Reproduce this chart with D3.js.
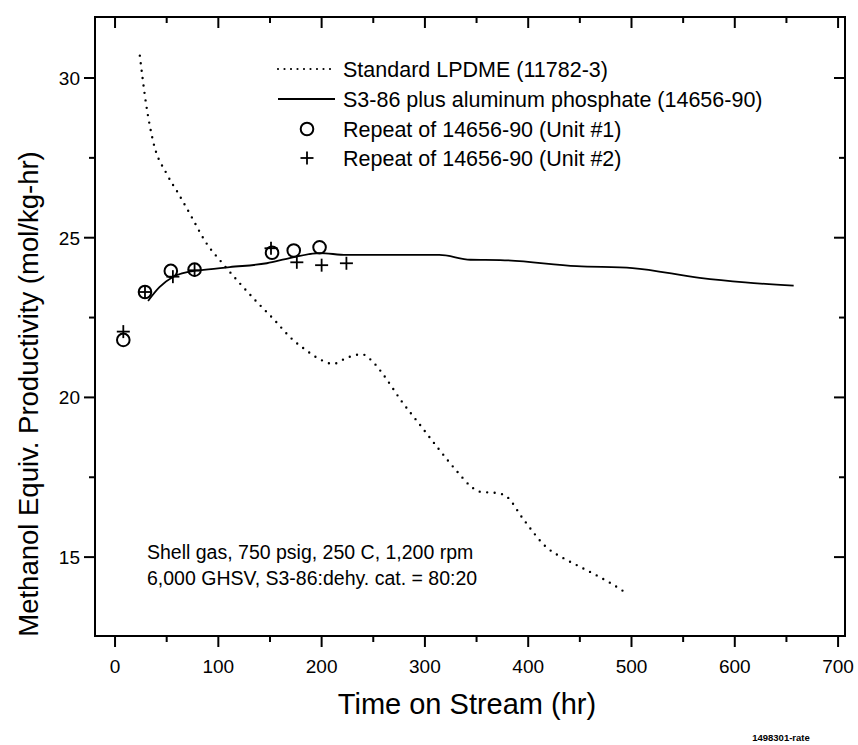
<!DOCTYPE html>
<html><head><meta charset="utf-8">
<script src="https://cdn.jsdelivr.net/npm/d3@7"></script>
<style>body{margin:0;background:#fff}svg{display:block}text{font-family:"Liberation Sans",Arial,Helvetica,sans-serif;fill:#000}</style>
</head><body><svg id="c" width="858" height="745"></svg>
<script>
const standardLPDME = [[24,30.7],[30,29.2],[37,28.0],[50,27.0],[61,26.4],[75,25.6],[87,24.9],[104,24.2],[120,23.6],[137,23.0],[155,22.4],[169,21.9],[184,21.5],[201,21.15],[211,21.05],[225,21.25],[239,21.35],[250,21.1],[260,20.7],[277,19.9],[295,19.15],[313,18.4],[332,17.65],[345,17.2],[353,17.05],[371,17.0],[379,16.9],[395,16.2],[418,15.3],[435,14.95],[450,14.7],[465,14.45],[479,14.2],[496,13.85]];
const s386AlPO4 = [[32,23.02],[43,23.45],[56,23.77],[70,23.92],[82,23.98],[111,24.08],[147,24.2],[169,24.36],[198,24.52],[224,24.46],[260,24.46],[314,24.46],[344,24.31],[373,24.3],[447,24.11],[501,24.05],[566,23.74],[610,23.6],[657,23.5]];
const unit1 = [[8,21.8],[29,23.3],[54,23.96],[77,24.0],[152,24.53],[173,24.6],[198,24.7]];
const unit2 = [[8,22.06],[29,23.3],[56,23.78],[77,23.98],[151,24.67],[176,24.23],[200,24.14],[224,24.2]];
const legendLabels = ["Standard LPDME (11782-3)","S3-86 plus aluminum phosphate (14656-90)","Repeat of 14656-90 (Unit #1)","Repeat of 14656-90 (Unit #2)"];
const xTicks = [0,100,200,300,400,500,600,700];
const yTicks = [15,20,25,30];
const note = ["Shell gas, 750 psig, 250 C, 1,200 rpm","6,000 GHSV, S3-86:dehy. cat. = 80:20"];

const svg = d3.select("#c");
const L=95,R=845,T=17,B=636;
const x = d3.scaleLinear().domain([-19.4,706.7]).range([L,R]);
const y = d3.scaleLinear().domain([12.53,31.91]).range([B,T]);

svg.append("rect").attr("x",L).attr("y",T).attr("width",R-L).attr("height",B-T).attr("fill","none").attr("stroke","#000").attr("stroke-width",2);

const xMinor = d3.range(50,700,100);
const yMinor = [17.5,22.5,27.5];
const g = svg.append("g").attr("stroke","#000").attr("stroke-width",2);
xTicks.forEach(v=>{g.append("line").attr("x1",x(v)).attr("x2",x(v)).attr("y1",B).attr("y2",B+11);
 g.append("line").attr("x1",x(v)).attr("x2",x(v)).attr("y1",T).attr("y2",T+11);});
xMinor.forEach(v=>{g.append("line").attr("x1",x(v)).attr("x2",x(v)).attr("y1",B).attr("y2",B+6);
 g.append("line").attr("x1",x(v)).attr("x2",x(v)).attr("y1",T).attr("y2",T+6);});
yTicks.forEach(v=>{g.append("line").attr("y1",y(v)).attr("y2",y(v)).attr("x1",L).attr("x2",L-11);
 g.append("line").attr("y1",y(v)).attr("y2",y(v)).attr("x1",R).attr("x2",R-11);});
yMinor.forEach(v=>{g.append("line").attr("y1",y(v)).attr("y2",y(v)).attr("x1",L).attr("x2",L-6);
 g.append("line").attr("y1",y(v)).attr("y2",y(v)).attr("x1",R).attr("x2",R-6);});

svg.append("g").selectAll("text").data(xTicks).join("text")
 .attr("x",d=>x(d)).attr("y",B+37).attr("text-anchor","middle").attr("font-size",19).text(d=>d);
svg.append("g").selectAll("text").data(yTicks).join("text")
 .attr("x",L-15).attr("y",d=>y(d)+7).attr("text-anchor","end").attr("font-size",19).text(d=>d);

svg.append("text").attr("x",467).attr("y",714).attr("text-anchor","middle").attr("font-size",29).text("Time on Stream (hr)");
svg.append("text").attr("transform",`translate(38,394) rotate(-90)`).attr("text-anchor","middle").attr("font-size",27.5).text("Methanol Equiv. Productivity (mol/kg-hr)");
svg.append("text").attr("x",781).attr("y",741).attr("text-anchor","middle").attr("font-size",9.5).attr("font-weight","bold").text("1498301-rate");

const line = d3.line().x(d=>x(d[0])).y(d=>y(d[1])).curve(d3.curveMonotoneX);
svg.append("path").attr("d",line(standardLPDME)).attr("fill","none").attr("stroke","#000").attr("stroke-width",2.4).attr("stroke-linecap","round").attr("stroke-dasharray","0,7.5");
svg.append("path").attr("d",line(s386AlPO4)).attr("fill","none").attr("stroke","#000").attr("stroke-width",1.8);

svg.append("g").selectAll("circle").data(unit1).join("circle")
 .attr("cx",d=>x(d[0])).attr("cy",d=>y(d[1])).attr("r",6.3).attr("fill","none").attr("stroke","#000").attr("stroke-width",2);
const plus = svg.append("g").attr("stroke","#000").attr("stroke-width",1.8);
unit2.forEach(d=>{const cx=x(d[0]),cy=y(d[1]);
 plus.append("line").attr("x1",cx-6.5).attr("x2",cx+6.5).attr("y1",cy).attr("y2",cy);
 plus.append("line").attr("x1",cx).attr("x2",cx).attr("y1",cy-6.5).attr("y2",cy+6.5);});

const ly=[69,99,129,158], lx0=278, lx1=335, tx=343;
const lg = svg.append("g");
lg.append("line").attr("x1",lx0).attr("x2",lx1).attr("y1",ly[0]).attr("y2",ly[0]).attr("stroke","#000").attr("stroke-width",2.2).attr("stroke-linecap","round").attr("stroke-dasharray","0,6.5");
lg.append("line").attr("x1",lx0).attr("x2",lx1).attr("y1",ly[1]).attr("y2",ly[1]).attr("stroke","#000").attr("stroke-width",1.8);
lg.append("circle").attr("cx",307).attr("cy",ly[2]).attr("r",6.3).attr("fill","none").attr("stroke","#000").attr("stroke-width",2);
lg.append("line").attr("x1",300.5).attr("x2",313.5).attr("y1",ly[3]).attr("y2",ly[3]).attr("stroke","#000").attr("stroke-width",1.8);
lg.append("line").attr("x1",307).attr("x2",307).attr("y1",ly[3]-6.5).attr("y2",ly[3]+6.5).attr("stroke","#000").attr("stroke-width",1.8);
lg.selectAll("text").data(legendLabels).join("text").attr("x",tx).attr("y",(d,i)=>ly[i]+8).attr("font-size",21.5).text(d=>d);

svg.append("g").selectAll("text").data(note).join("text").attr("x",147).attr("y",(d,i)=>559+i*26).attr("font-size",19.5).text(d=>d);
</script></body></html>
